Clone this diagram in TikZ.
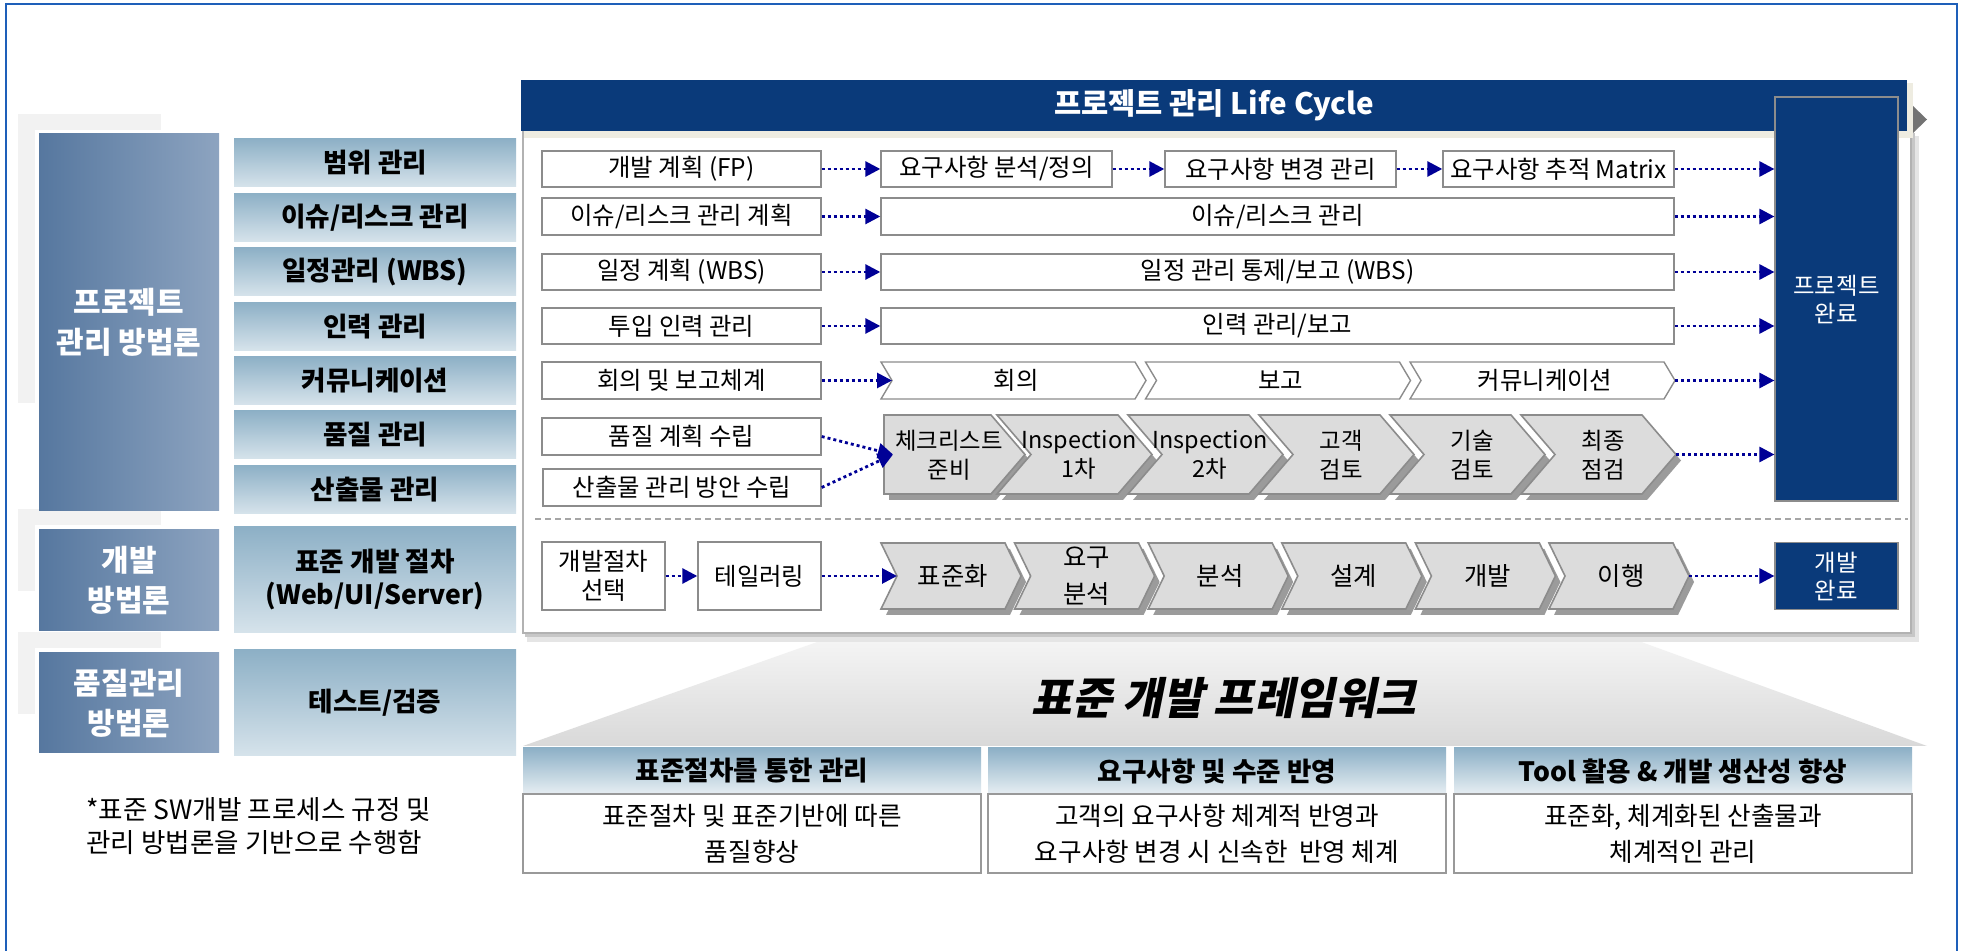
\documentclass[tikz,border=0pt]{standalone}
\usepackage{fontspec}
\setmainfont{Noto Sans CJK KR}
\newfontfamily\slantfont[FakeSlant=0.2]{Noto Sans CJK KR}
\usetikzlibrary{arrows.meta}
\definecolor{frameblue}{RGB}{30,95,185}
\definecolor{navyhead}{RGB}{10,58,122}
\definecolor{arrownavy}{RGB}{0,0,150}
\definecolor{methleft}{RGB}{86,119,159}
\definecolor{methright}{RGB}{141,164,192}
\definecolor{areatop}{RGB}{141,176,198}
\definecolor{areabot}{RGB}{214,227,235}
\definecolor{chevfill}{RGB}{220,220,220}
\definecolor{chevline}{RGB}{140,140,140}
\definecolor{chevshade}{RGB}{155,155,155}
\definecolor{boxline}{RGB}{140,140,140}
\definecolor{beige}{RGB}{238,236,225}
\definecolor{lgray}{RGB}{242,242,242}
\tikzset{flow/.style={draw=arrownavy, line width=1.4pt, dash pattern=on 1.5pt off 1.5pt,
    -{Triangle[length=7.5pt, width=7.5pt]}},
  boxsize/.style 2 args={minimum width=#1*0.5pt, minimum height=#2*0.5pt},
  meth/.style={left color=methleft, right color=methright, text=white, align=center,
    inner sep=0pt, font=\bfseries\fontsize{15}{20}\selectfont},
  area/.style={top color=areatop, bottom color=areabot, align=center, inner sep=0pt,
    font=\bfseries\fontsize{13.3}{16.5}\selectfont},
  lcbox/.style={draw=boxline, line width=0.7pt, fill=white, align=center, inner sep=0pt,
    font=\fontsize{12.2}{14.5}\selectfont},
  donebox/.style={fill=navyhead, draw=black!45, line width=0.6pt, text=white, align=center,
    inner sep=0pt, font=\fontsize{11.7}{14}\selectfont},
  chevtext/.style={align=center, inner sep=0pt, font=\fontsize{11.7}{14.5}\selectfont},
  chevgray/.style={fill=chevfill, draw=chevline, line width=0.8pt},
  chevwhite/.style={fill=white, draw=chevline, line width=0.7pt},
  colhead/.style={top color=areatop, bottom color=areabot!60!white, inner sep=0pt,
    font=\bfseries\fontsize{13.3}{15}\selectfont},
  colbody/.style={draw=black!40, line width=0.7pt, fill=white, align=center, inner sep=0pt,
    font=\fontsize{12.8}{18}\selectfont}}

\begin{document}
\begin{tikzpicture}[x=0.5pt, y=-0.5pt]
  \useasboundingbox (0,0) rectangle (1966,951);
  \fill[white] (0,0) rectangle (1966,951);
  \draw[frameblue, line width=1.2pt] (6,975) -- (6,4) -- (1957,4) -- (1957,975);

  % methodology column
  \foreach \t/\b in {114/403, 509/591, 632/714}{
    \fill[lgray] (18,\t) rectangle (161,\t+16);
    \fill[lgray] (18,\t) rectangle (35,\b);
  }
  \node[meth, boxsize={180}{377}] (pm) at (129,322.5) {프로젝트\\관리 방법론};
  \node[meth, boxsize={180}{101}] (dm) at (129,580.5) {개발\\방법론};
  \node[meth, boxsize={180}{100}] (qm) at (129,703) {품질관리\\방법론};
  \foreach \lbl [count=\i from 0] in {범위 관리, 이슈/리스크 관리, 일정관리 (WBS), 인력 관리,
      커뮤니케이션, 품질 관리, 산출물 관리}
    \node[area, boxsize={282}{48}] (area\i) at (375,163+54.4*\i) {\lbl};
  \node[area, boxsize={282}{106}] (area7) at (375,580) {표준 개발 절차\\(Web/UI/Server)};
  \node[area, boxsize={282}{106}] (area8) at (375,703) {테스트/검증};
  \node[anchor=west, align=left, inner sep=0pt, font=\fontsize{13.3}{16.5}\selectfont] (note)
    at (86,826.5) {*표준 SW개발 프로세스 규정 및\\관리 방법론을 기반으로 수행함};

  % framework roof and life cycle panel
  \shade[top color=white, bottom color=black!15] (936,600) -- (1526,600) -- (1927,746)
    -- (523,746) -- cycle;
  \fill[black!10] (527,136) rectangle (1919,642);
  \fill[black!22] (525,133) rectangle (1915,637);
  \draw[black!30, fill=white, line width=0.6pt] (523,131) rectangle (1911,633);
  \fill[beige] (524,83) rectangle (1913,138);
  \fill[black!55] (1913,106) -- (1927,119.5) -- (1913,133) -- cycle;
  \node[fill=navyhead, text=white, inner sep=0pt, boxsize={1386}{51},
    font=\bfseries\fontsize{14.8}{16}\selectfont] (lchead) at (1214,105.5) {프로젝트 관리 Life Cycle};
  \draw[black!35, line width=0.7pt, dash pattern=on 3pt off 2pt] (535,519) -- (1908,519);

  \node[donebox, boxsize={123}{404}] (pjdone) at (1836.5,299) {프로젝트\\완료};
  \node[donebox, boxsize={123}{67}] (devdone) at (1836.5,576) {개발\\완료};

  % requirement row
  \node[lcbox, boxsize={279}{36}] (fp) at (681.5,169) {개발 계획 (FP)};
  \node[lcbox, boxsize={231}{36}] (req1) at (996.5,169) {요구사항 분석/정의};
  \node[lcbox, boxsize={231}{36}] (req2) at (1280.5,169) {요구사항 변경 관리};
  \node[lcbox, boxsize={231}{36}] (req3) at (1558.5,169) {요구사항 추적 Matrix};
  \draw[flow] (fp) -- (req1);
  \draw[flow] (req1) -- (req2);
  \draw[flow] (req2) -- (req3);
  \draw[flow] (req3) -- (req3 -| pjdone.west);

  % risk, schedule, staff rows
  \node[lcbox, boxsize={279}{37}] (risk0) at (681.5,216.5) {이슈/리스크 관리 계획};
  \node[lcbox, boxsize={793}{37}] (risk1) at (1277.5,216.5) {이슈/리스크 관리};
  \node[lcbox, boxsize={279}{36}] (sch0) at (681.5,272) {일정 계획 (WBS)};
  \node[lcbox, boxsize={793}{36}] (sch1) at (1277.5,272) {일정 관리 통제/보고 (WBS)};
  \node[lcbox, boxsize={279}{36}] (hr0) at (681.5,326) {투입 인력 관리};
  \node[lcbox, boxsize={793}{36}] (hr1) at (1277.5,326) {인력 관리/보고};
  \foreach \nm in {risk, sch, hr}{
    \draw[flow] (\nm0) -- (\nm1);
    \draw[flow] (\nm1) -- (\nm1 -| pjdone.west);
  }

  % communication row
  \node[lcbox, boxsize={279}{37}] (meet) at (681.5,380.5) {회의 및 보고체계};
  \foreach \lbl [count=\i from 0] in {회의, 보고, 커뮤니케이션}{
    \pgfmathsetmacro\xa{881+264.5*\i}
    \draw[chevwhite] (\xa,362) -- (\xa+254,362) -- (\xa+265,380.5) -- (\xa+254,399)
      -- (\xa,399) -- (\xa+11,380.5) -- cycle;
    \node[chevtext, font=\fontsize{12.2}{14.5}\selectfont] (talk\i) at (\xa+135,380.5) {\lbl};
  }
  \coordinate (talkin) at (892,380.5);
  \coordinate (talkend) at (1675,380.5);
  \draw[flow] (meet) -- (talkin);
  \draw[flow] (talkend) -- (talkend -| pjdone.west);

  % quality row
  \node[lcbox, boxsize={279}{37}] (qplan) at (681.5,436.5) {품질 계획 수립};
  \node[lcbox, boxsize={278}{37}] (qdoc) at (682,487.5) {산출물 관리 방안 수립};
  \foreach \lbl [count=\i from 0] in {{체크리스트\\준비}, {Inspection\\1차}, {Inspection\\2차},
      {고객\\검토}, {기술\\검토}, {최종\\점검}}{
    \ifnum\i=0 \def\xa{884}\def\cw{141}\def\cn{0}\def\cx{949}%
    \else \pgfmathsetmacro\xa{997+131*(\i-1)}\def\cw{155}\def\cn{34}%
      \pgfmathsetmacro\cx{\xa+82}\fi
    \fill[chevshade, shift={(5,6)}] (\xa,415) -- (\xa+\cw-34,415) -- (\xa+\cw,454.5)
      -- (\xa+\cw-34,494) -- (\xa,494) -- (\xa+\cn,454.5) -- cycle;
    \draw[chevgray] (\xa,415) -- (\xa+\cw-34,415) -- (\xa+\cw,454.5)
      -- (\xa+\cw-34,494) -- (\xa,494) -- (\xa+\cn,454.5) -- cycle;
    \node[chevtext] (chk\i) at (\cx,455) {\lbl};
  }
  \coordinate (qin) at (893,454.5);
  \coordinate (qend) at (1676,454.5);
  \draw[flow] (qplan.east) -- (qin);
  \draw[flow] (qdoc.east) -- (qin);
  \draw[flow] (qend) -- (qend -| pjdone.west);

  % development row
  \node[lcbox, boxsize={123}{68}] (devsel) at (603.5,576) {개발절차\\선택};
  \node[lcbox, boxsize={123}{68}] (tailor) at (759.5,576) {테일러링};
  \foreach \lbl [count=\i from 0] in {표준화, {요구\\분석}, 분석, 설계, 개발, 이행}{
    \pgfmathsetmacro\xa{881+133.6*\i}
    \fill[chevshade, shift={(5,6)}] (\xa,543) -- (\xa+124,543) -- (\xa+140,576)
      -- (\xa+124,609) -- (\xa,609) -- (\xa+16,576) -- cycle;
    \draw[chevgray] (\xa,543) -- (\xa+124,543) -- (\xa+140,576)
      -- (\xa+124,609) -- (\xa,609) -- (\xa+16,576) -- cycle;
    \node[chevtext, font=\fontsize{12.7}{18.5}\selectfont] (dev\i) at (\xa+72,576) {\lbl};
  }
  \coordinate (devin) at (897,576);
  \coordinate (devend) at (1689,576);
  \draw[flow] (devsel) -- (tailor);
  \draw[flow] (tailor) -- (devin);
  \draw[flow] (devend) -- (devdone);

  % standard framework
  \node[inner sep=0pt, font=\slantfont\bfseries\fontsize{22}{26}\selectfont] (fwtitle)
    at (1224,698) {표준 개발 프레임워크};
  \node[colhead, boxsize={458}{46}] (col1h) at (752,771) {표준절차를 통한 관리};
  \node[colhead, boxsize={458}{46}] (col2h) at (1217,771) {요구사항 및 수준 반영};
  \node[colhead, boxsize={458}{46}] (col3h) at (1683,771) {Tool 활용 \& 개발 생산성 향상};
  \node[colbody, boxsize={458}{79}] (col1b) at (752,833.5) {표준절차 및 표준기반에 따른\\품질향상};
  \node[colbody, boxsize={458}{79}] (col2b) at (1217,833.5) {고객의 요구사항 체계적 반영과\\요구사항 변경 시 신속한~ 반영 체계};
  \node[colbody, boxsize={458}{79}] (col3b) at (1683,833.5) {표준화, 체계화된 산출물과\\체계적인 관리};
\end{tikzpicture}
\end{document}
